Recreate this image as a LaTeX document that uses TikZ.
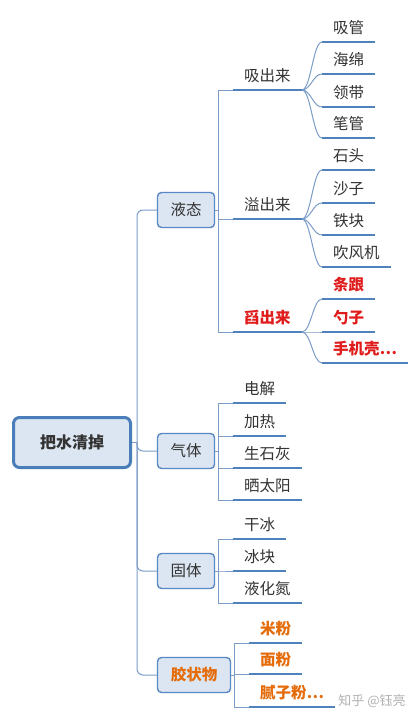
\documentclass[tikz,border=0pt]{standalone}
\usepackage{fontspec}
\setmainfont{Noto Sans CJK SC}
\definecolor{boxfill}{HTML}{DCE6F2}
\definecolor{boxline}{HTML}{5A87C5}
\definecolor{rootline}{HTML}{4A7EBB}
\definecolor{conncol}{HTML}{7C9CC8}
\definecolor{ulcol}{HTML}{4F81BD}
\definecolor{txt}{HTML}{333333}
\definecolor{redtxt}{HTML}{E01B1B}
\definecolor{orgtxt}{HTML}{E46C0A}
\tikzset{
  rootbox/.style={draw=rootline, line width=3pt, fill=boxfill, rounded corners=6pt,
    minimum width=117pt, minimum height=50pt, font=\fontsize{16}{19}\selectfont\bfseries, text=txt},
  catbox/.style={draw=boxline, line width=1.4pt, fill=boxfill, rounded corners=4pt,
    minimum width=57pt, minimum height=35pt, font=\fontsize{15.5}{18}\selectfont, text=txt},
  leaf/.style={anchor=south west, inner xsep=11pt, inner ysep=4pt, text height=12pt, text depth=4pt,
    font=\fontsize{15.5}{18}\selectfont, text=txt},
  redleaf/.style={leaf, text=redtxt, font=\fontsize{15.5}{18}\selectfont\bfseries},
  orgleaf/.style={leaf, text=orgtxt, font=\fontsize{15.5}{18}\selectfont\bfseries},
  conn/.style={draw=conncol, line width=1pt},
  uline/.style={draw=ulcol, line width=2.2pt},
}
\newcommand{\ul}[1]{\draw[uline] (#1.south west) -- (#1.south east);}
\newcommand{\curv}[2]{\draw[conn] (#1.south east) .. controls +(9,0) and +(-9,0) .. (#2.south west);}
\newcommand{\elb}[2]{\draw[conn] (#1.east) -- ++(3,0) |- (#2.south west);}
\begin{document}
\begin{tikzpicture}[x=1pt,y=-1pt]
\useasboundingbox (0,0) rectangle (420,720);
\fill[white] (0,0) rectangle (420,720);

% root and categories
\node[rootbox] (root) at (72,442.5) {把水清掉};
\node[catbox] (liq) at (186,210) {液态};
\node[catbox] (gas) at (186,451) {气体};
\node[catbox] (sol) at (186,571) {固体};
\node[catbox, minimum width=73pt, text=orgtxt, font=\fontsize{15.5}{18}\selectfont\bfseries] (col) at (194,675) {胶状物};

\coordinate (tr) at (137,442.5);
\draw[conn] (root.east) -- (tr);
\foreach \c in {liq,gas,sol,col}{\draw[conn, rounded corners=6pt] (tr) |- (\c.west);}

% liquid level 2
\node[leaf] (xi) at (233,90) {吸出来};
\node[leaf] (yi) at (233,219) {溢出来};
\node[redleaf] (yao) at (233,332) {舀出来};
\foreach \n in {xi,yi,yao}{\elb{liq}{\n}}

% liquid level 3
\node[leaf] (a1) at (322,42) {吸管};
\node[leaf] (a2) at (322,74) {海绵};
\node[leaf] (a3) at (322,107) {领带};
\node[leaf] (a4) at (322,138) {笔管};
\foreach \n in {a1,a2,a3,a4}{\curv{xi}{\n}}
\node[leaf] (b1) at (322,170) {石头};
\node[leaf] (b2) at (322,203) {沙子};
\node[leaf] (b3) at (322,235) {铁块};
\node[leaf] (b4) at (322,267) {吹风机};
\foreach \n in {b1,b2,b3,b4}{\curv{yi}{\n}}
\node[redleaf] (c1) at (322,299) {条跟};
\node[redleaf] (c2) at (322,332) {勺子};
\node[redleaf] (c3) at (322,363) {手机壳…};
\foreach \n in {c1,c2,c3}{\curv{yao}{\n}}

% gas
\node[leaf] (g1) at (233,403) {电解};
\node[leaf] (g2) at (233,436) {加热};
\node[leaf] (g3) at (233,468) {生石灰};
\node[leaf] (g4) at (233,500) {晒太阳};
\foreach \n in {g1,g2,g3,g4}{\elb{gas}{\n}}

% solid
\node[leaf] (s1) at (233,539) {干冰};
\node[leaf] (s2) at (233,571) {冰块};
\node[leaf] (s3) at (233,603) {液化氮};
\foreach \n in {s1,s2,s3}{\elb{sol}{\n}}

% colloid
\node[orgleaf] (k1) at (249,643) {米粉};
\node[orgleaf] (k2) at (249,674) {面粉};
\node[orgleaf] (k3) at (249,707) {腻子粉…};
\foreach \n in {k1,k2,k3}{\elb{col}{\n}}

% underlines
\foreach \n in {xi,yi,yao,a1,a2,a3,a4,b1,b2,b3,b4,c1,c2,c3,g1,g2,g3,g4,s1,s2,s3,k1,k2,k3}{\ul{\n}}

% watermark
\node[text=black!30, font=\fontsize{13}{15}\selectfont] (wm) at (372,701) {知乎 @钰亮};
\end{tikzpicture}
\end{document}
